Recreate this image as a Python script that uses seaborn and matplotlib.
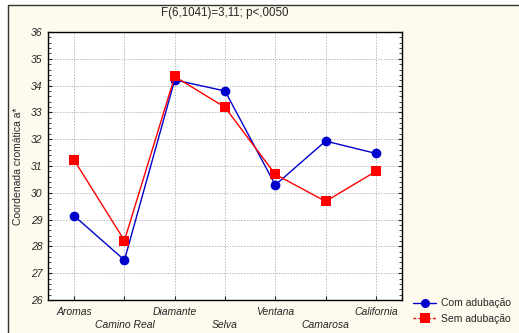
import pandas as pd
import seaborn as sns
import matplotlib.pyplot as plt
from matplotlib.lines import Line2D
from matplotlib.patches import Rectangle
from matplotlib.ticker import MultipleLocator

cultivars = ["Aromas", "Camino Real", "Diamante", "Selva", "Ventana", "Camarosa", "California"]
com_adubacao = [29.14, 27.49, 34.21, 33.80, 30.29, 31.93, 31.47]
sem_adubacao = [31.22, 28.22, 34.34, 33.19, 30.69, 29.68, 30.80]
series_names = ["Com adubação", "Sem adubação"]
title = "F(6,1041)=3,11; p<,0050"
ylabel = "Coordenada cromática a*"

df = pd.DataFrame({
    "cultivar": cultivars * 2,
    "pos": list(range(len(cultivars))) * 2,
    "valor": com_adubacao + sem_adubacao,
    "trat": [series_names[0]] * len(cultivars) + [series_names[1]] * len(cultivars),
})

sns.set_style("white")
plt.rcParams["font.family"] = ["Liberation Sans", "DejaVu Sans"]

cream = "#fffaee"
fig = plt.figure(figsize=(5.19, 3.33), dpi=100, facecolor=cream)
# outer frame of the graph window
fig.patches.append(Rectangle((0, 0), 1, 1, transform=fig.transFigure,
                             facecolor="white", edgecolor="none", zorder=-3))
fig.patches.append(Rectangle((8 / 519, -0.1), 1.2, 1 - 5 / 333 + 0.1, transform=fig.transFigure,
                             facecolor=cream, edgecolor="#333333", linewidth=1.0, zorder=-2))

W, H = 519, 333
ax = fig.add_axes([48 / W, 1 - 300 / H, (402 - 48) / W, (300 - 32) / H])
ax.set_facecolor("white")

palette = {series_names[0]: "#0000cc", series_names[1]: "#ff0000"}
sns.lineplot(data=df, x="pos", y="valor", hue="trat", style="trat",
             markers={series_names[0]: "o", series_names[1]: "s"},
             dashes=False, palette=palette, linewidth=1.0, markersize=7,
             markeredgewidth=0, legend=False, ax=ax, sort=False)

ax.set_xlim(-0.52, len(cultivars) - 0.48)
ax.set_ylim(26, 36)
ax.yaxis.set_major_locator(MultipleLocator(1))
ax.yaxis.set_minor_locator(MultipleLocator(0.2))
ax.set_xticks(range(len(cultivars)))
ax.set_xticklabels([c if i % 2 == 0 else "\n" + c for i, c in enumerate(cultivars)],
                   fontstyle="italic", fontsize=7.5, linespacing=1.35)
for lab in ax.get_yticklabels():
    lab.set_fontstyle("italic")
ax.tick_params(axis="y", which="both", direction="in", left=True, right=True, labelsize=7.5, pad=4)
ax.tick_params(axis="y", which="major", length=3, width=0.8)
ax.tick_params(axis="y", which="minor", length=2, width=0.6)
ax.tick_params(axis="x", direction="in", bottom=True, length=3, width=0.8, pad=5)
ax.grid(True, which="major", color="#b8b8b8", linestyle=(0, (1.5, 1.5)), linewidth=0.7)
for s in ax.spines.values():
    s.set_color("black")
    s.set_linewidth(1.0)

ax.set_xlabel("")
ax.set_ylabel(ylabel, fontsize=7.5, labelpad=6)
fig.text(225 / W, 1 - 13 / H, title, ha="center", va="center", fontsize=8.3)

handles = [
    Line2D([], [], color="#0000cc", marker="o", markersize=6.5, markeredgewidth=0, linewidth=1.0),
    Line2D([], [], color="#ff0000", marker="s", markersize=6.5, markeredgewidth=0, linewidth=1.0,
           linestyle=(0, (2, 1.5))),
]
fig.legend(handles, series_names, loc="center left", bbox_to_anchor=(408 / W, 1 - 311 / H),
           frameon=False, fontsize=7.5, handlelength=2.2, handletextpad=0.5, labelspacing=0.5,
           borderpad=0)

fig.savefig("out.png", dpi=100, facecolor=fig.get_facecolor())
